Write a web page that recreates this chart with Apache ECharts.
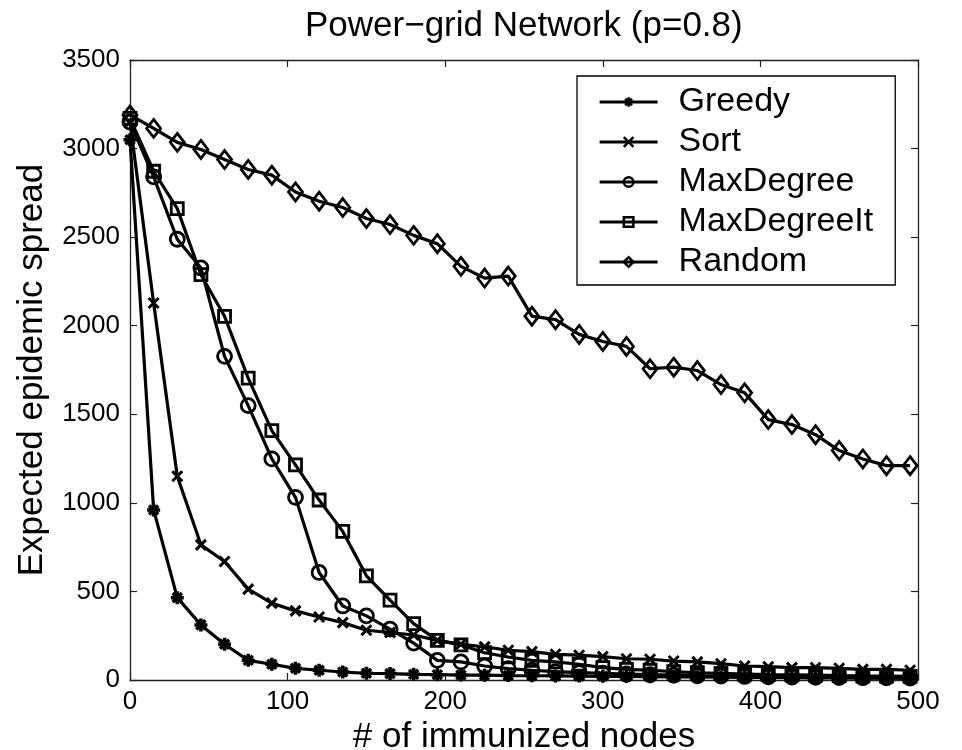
<!DOCTYPE html>
<html>
<head>
<meta charset="utf-8">
<title>Power-grid Network (p=0.8)</title>
<script src="https://cdn.jsdelivr.net/npm/echarts@6/dist/echarts.min.js"></script>
<style>
  html, body { margin: 0; padding: 0; background: #fff; }
  #main { width: 962px; height: 750px; }
</style>
</head>
<body>
<div id="main"></div>
<script type="text/javascript">
// number of immunized nodes (x)
var nodes = [0, 15, 30, 45, 60, 75, 90, 105, 120, 135, 150, 165, 180, 195, 210, 225, 240,
             255, 270, 285, 300, 315, 330, 345, 360, 375, 390, 405, 420, 435, 450, 465, 480, 495];

// expected epidemic spread for each method
var greedy = [3050, 960, 465, 311, 202, 111, 89, 66, 55, 45, 38, 36, 32, 30, 28, 27, 25,
              24, 23, 22, 21, 20, 19, 18, 17, 16, 15, 14, 13, 12, 12, 11, 10, 10];
var sortM = [3150, 2128, 1150, 763, 669, 513, 434, 390, 356, 324, 281, 268, 254, 224, 202, 187, 168,
             160, 145, 140, 132, 120, 117, 107, 102, 92, 79, 75, 70, 70, 66, 60, 60, 55];
var maxDegree = [3150, 2840, 2488, 2326, 1827, 1549, 1248, 1031, 607, 418, 362, 287, 208, 111, 102, 79, 64,
                 55, 47, 42, 38, 34, 30, 27, 24, 22, 20, 18, 16, 15, 14, 13, 12, 11];
var maxDegreeIt = [3170, 2872, 2661, 2288, 2053, 1704, 1408, 1214, 1016, 839, 588, 451, 318, 224, 198, 154, 130,
                   111, 102, 89, 70, 60, 55, 47, 41, 37, 34, 31, 29, 27, 25, 23, 22, 21];
var randomM = [3190, 3114, 3035, 2995, 2938, 2882, 2850, 2755, 2703, 2667, 2605, 2571, 2510, 2463, 2335, 2269, 2280,
               2054, 2034, 1951, 1911, 1883, 1757, 1766, 1747, 1668, 1621, 1470, 1442, 1385, 1295, 1248, 1210, 1210];

var names = ['Greedy', 'Sort', 'MaxDegree', 'MaxDegreeIt', 'Random'];

function pairs(ys) {
    var out = [];
    for (var i = 0; i < ys.length; i++) out.push([nodes[i], ys[i]]);
    return out;
}

var FONT = "'Liberation Sans', Arial, sans-serif";
// matlab-like '*' and 'x' markers (stroked only)
var starPath = 'path://M10,0L10,20M0,10L20,10M3,3L17,17M3,17L17,3';
var crossPath = 'path://M0,0L20,20M0,20L20,0';

function line(name, ys, symbol, size, bw) {
    return {
        name: name,
        type: 'line',
        data: pairs(ys),
        xAxisIndex: 0,
        yAxisIndex: 0,
        symbol: symbol,
        symbolSize: size,
        showAllSymbol: true,
        lineStyle: { color: '#000', width: 3.2 },
        itemStyle: { color: 'rgba(0,0,0,0)', borderColor: '#000', borderWidth: bw },
        emphasis: { disabled: true },
        animation: false
    };
}

var myChart = echarts.init(document.getElementById('main'));

var tickCommon = { show: true, inside: true, length: 7, lineStyle: { color: '#222', width: 1.2 } };
var axisLineCommon = { show: true, onZero: false, lineStyle: { color: '#222', width: 1.3 } };

var option = {
    backgroundColor: '#fff',
    title: {
        text: 'Power\u2212grid Network (p=0.8)',
        left: 300,
        top: 4,
        textStyle: { fontFamily: FONT, fontSize: 35, fontWeight: 'normal', color: '#000' }
    },
    legend: {
        orient: 'vertical',
        left: 577,
        top: 76,
        data: names,
        itemWidth: 58,
        itemHeight: 12,
        itemGap: 6,
        padding: [9, 22, 6, 21],
        borderColor: '#000',
        borderWidth: 1.3,
        selectedMode: false,
        lineStyle: { color: '#000', width: 3.2 },
        itemStyle: { borderColor: '#000', borderWidth: 2.5 },
        textStyle: { fontFamily: FONT, fontSize: 34, color: '#000', lineHeight: 34, padding: [0, 0, 0, 16] }
    },
    grid: { left: 130, right: 44, top: 60, bottom: 70, outerBoundsMode: 'none', containLabel: false },
    xAxis: [
        {
            type: 'value', min: 0, max: 500, interval: 100, position: 'bottom',
            name: '# of immunized nodes', nameLocation: 'middle', nameGap: 36,
            nameTextStyle: { fontFamily: FONT, fontSize: 35, color: '#000' },
            axisLine: axisLineCommon, axisTick: tickCommon,
            axisLabel: { fontFamily: FONT, fontSize: 26, color: '#000', margin: 9 },
            splitLine: { show: false }
        },
        {
            type: 'value', min: 0, max: 500, interval: 100, position: 'top',
            axisLine: axisLineCommon, axisTick: tickCommon,
            axisLabel: { show: false }, splitLine: { show: false }
        }
    ],
    yAxis: [
        {
            type: 'value', min: 0, max: 3500, interval: 500, position: 'left',
            name: 'Expected epidemic spread', nameLocation: 'middle', nameGap: 80,
            nameTextStyle: { fontFamily: FONT, fontSize: 35, color: '#000' },
            axisLine: axisLineCommon, axisTick: tickCommon,
            axisLabel: { fontFamily: FONT, fontSize: 26, color: '#000', margin: 10,
                         formatter: function (v) { return String(v); } },
            splitLine: { show: false }
        },
        {
            type: 'value', min: 0, max: 3500, interval: 500, position: 'right',
            axisLine: axisLineCommon, axisTick: tickCommon,
            axisLabel: { show: false }, splitLine: { show: false }
        }
    ],
    series: [
        line('Greedy', greedy, starPath, 13, 3.5),
        line('Sort', sortM, crossPath, 10, 3),
        line('MaxDegree', maxDegree, 'circle', 14, 2.8),
        line('MaxDegreeIt', maxDegreeIt, 'rect', 12, 2.8),
        line('Random', randomM, 'diamond', [14, 18], 2.8)
    ]
};

myChart.setOption(option);
</script>
</body>
</html>
